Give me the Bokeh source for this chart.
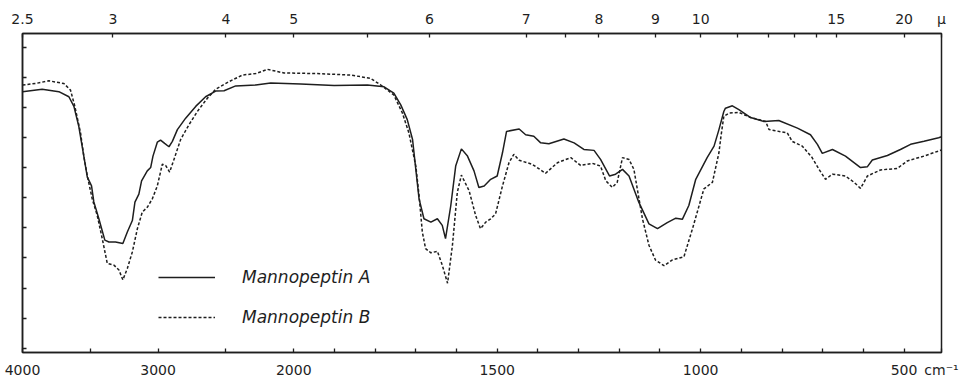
import json
import numpy as np
from bokeh.plotting import figure
from bokeh.models import (FixedTicker, CustomJSTickFormatter, LinearAxis, Range1d,
                          Legend, LegendItem)
from bokeh.embed import file_html
from bokeh.resources import INLINE

# ---------------- data (wavenumber cm-1, % transmittance) ----------------
nu_a = [4000, 3855, 3732, 3658, 3621, 3585, 3548, 3522, 3491, 3474, 3437, 3393, 3363, 3314,
        3260, 3227, 3190, 3171, 3142, 3122, 3080, 3055, 3038, 3006, 2982, 2952, 2920, 2895,
        2858, 2797, 2723, 2650, 2576, 2514, 2428, 2280, 2170, 1983, 1901, 1819, 1778, 1754,
        1737, 1721, 1708, 1700, 1692, 1680, 1663, 1647, 1635, 1627, 1614, 1602, 1588, 1573,
        1557, 1545, 1532, 1516, 1500, 1487, 1477, 1446, 1430, 1410, 1393, 1373, 1336, 1311,
        1287, 1262, 1246, 1224, 1209, 1192, 1176, 1152, 1127, 1106, 1082, 1061, 1045, 1029,
        1012, 984, 967, 955, 943, 939, 922, 906, 877, 844, 808, 762, 730, 713, 701, 676,
        644, 607, 590, 578, 541, 509, 484, 451, 415, 408]
t_a = [85.2, 86.0, 85.2, 83.5, 80.3, 73.7, 63.8, 56.8, 53.9, 48.6, 43.0, 35.9, 35.3, 35.3,
       34.8, 38.6, 42.4, 48.5, 51.2, 55.6, 58.9, 60.0, 63.8, 68.4, 69.1, 68.0, 66.9, 68.7,
       72.6, 76.4, 80.3, 83.5, 85.4, 85.5, 87.1, 87.4, 88.1, 87.7, 87.2, 87.4, 86.8, 84.7,
       80.8, 75.9, 69.3, 59.4, 49.6, 43.0, 41.9, 43.0, 40.8, 36.4, 47.4, 60.5, 66.2, 63.8,
       58.9, 53.4, 53.9, 56.1, 57.2, 64.9, 72.0, 72.8, 70.9, 70.4, 68.2, 67.9, 69.5, 68.2,
       66.0, 65.7, 62.7, 57.2, 57.8, 59.4, 57.2, 48.5, 41.3, 39.7, 41.7, 43.2, 42.8, 47.4,
       56.1, 63.3, 67.1, 72.6, 78.6, 79.7, 80.5, 79.2, 76.6, 75.3, 75.6, 73.1, 70.9, 67.7, 64.7, 66.0,
       63.8, 60.0, 60.3, 62.5, 64.0, 66.0, 67.7, 68.7, 69.9, 70.2]

nu_b = [4000, 3904, 3806, 3695, 3646, 3614, 3572, 3548, 3522, 3486, 3449, 3412, 3375, 3326,
        3289, 3260, 3227, 3190, 3153, 3117, 3080, 3043, 3006, 2969, 2945, 2915, 2883, 2834,
        2773, 2711, 2637, 2576, 2478, 2379, 2280, 2194, 2072, 1942, 1860, 1811, 1786, 1754,
        1733, 1717, 1700, 1692, 1684, 1676, 1663, 1647, 1635, 1622, 1610, 1598, 1588, 1569,
        1553, 1541, 1528, 1516, 1504, 1487, 1471, 1459, 1446, 1414, 1381, 1352, 1319, 1295,
        1266, 1246, 1233, 1217, 1205, 1192, 1176, 1164, 1143, 1127, 1111, 1090, 1070, 1041,
        1020, 992, 971, 955, 950, 943, 930, 906, 877, 840, 832, 787, 775, 750, 726, 709, 693,
        676, 644, 623, 607, 590, 558, 517, 492, 451, 415, 408]
t_b = [87.4, 87.9, 88.8, 87.9, 85.7, 80.3, 71.5, 63.8, 57.2, 49.6, 44.1, 36.4, 28.2, 27.6,
       26.0, 22.7, 26.5, 32.0, 39.7, 45.2, 46.8, 49.6, 53.9, 61.1, 60.7, 58.5, 62.7, 69.3,
       74.2, 78.6, 83.0, 86.0, 88.5, 90.7, 91.2, 92.6, 91.4, 91.2, 90.7, 89.6, 87.4, 84.1,
       78.1, 71.5, 60.5, 50.7, 38.6, 33.1, 31.7, 32.2, 27.6, 21.6, 34.2, 51.8, 57.5, 52.3,
       44.1, 39.7, 41.9, 43.0, 44.6, 53.9, 61.6, 64.4, 62.4, 61.1, 58.1, 61.6, 63.3, 60.7,
       61.4, 60.5, 55.6, 53.4, 55.1, 63.3, 62.7, 59.4, 43.0, 34.2, 29.3, 27.4, 29.3, 30.4,
       39.7, 52.9, 55.1, 64.9, 70.4, 77.0, 78.1, 78.3, 76.6, 75.3, 72.6, 71.5, 68.7, 67.1, 63.3, 59.4, 56.1,
       57.8, 57.2, 55.1, 53.1, 57.2, 59.2, 59.7, 62.2, 63.8, 65.5, 65.8]

series_names = ["Mannopeptin A", "Mannopeptin B"]

# bottom axis: wavenumber ticks and labels (unit label sits at the right end)
bottom_ticks_nu = [4000, 3500, 3000, 2500, 2000, 1900, 1800, 1700, 1600, 1500, 1400, 1300,
                   1200, 1100, 1000, 900, 800, 700, 600, 500]
bottom_labels = {4000: "4000", 3000: "3000", 2000: "2000", 1500: "1500", 1000: "1000", 500: "500"}
bottom_unit = "cm\u207b\u00b9"
# top axis: wavelength (micron) ticks and labels (unit label sits at the right end)
top_ticks_um = [2.5, 3, 4, 5, 5.5, 6, 7, 7.5, 8, 9, 10, 11, 12, 13, 14, 15, 20]
top_labels = ["2.5", "3", "4", "5", "", "6", "7", "", "8", "9", "10", "", "", "", "", "15", "20"]
top_unit = "\u03bc"
y_ticks = [0, 10, 20, 30, 40, 50, 60, 70, 80, 90, 100]

NU_HI, NU_LO = 4000, 408
Y_LO, Y_HI = -1.4, 104.5


def to_u(nu):
    """Grating-change abscissa: 1x scale above 2000 cm-1, 3x scale below."""
    nu = np.asarray(nu, dtype=float)
    return np.where(nu >= 2000, 4000 - nu, 8000 - 3 * nu)


U_END = float(to_u(NU_LO))
INK = "#1e1e1e"
FONT = "DejaVu Sans"

p = figure(width=968, height=380, output_backend="svg", toolbar_location=None,
           x_range=Range1d(float(to_u(NU_HI)), U_END),
           y_range=Range1d(Y_LO, Y_HI),
           min_border_left=22, min_border_right=27, min_border_top=33, min_border_bottom=25)
p.background_fill_color = "white"
p.border_fill_color = "white"
p.outline_line_color = INK
p.outline_line_width = 1.5
p.grid.visible = False

inv_js = "const nu = tick <= 2000 ? 4000 - tick : (8000 - tick) / 3;"

xb = p.xaxis[0]
xb.ticker = FixedTicker(ticks=[float(v) for v in to_u(bottom_ticks_nu)] + [U_END])
xb.formatter = CustomJSTickFormatter(code=inv_js + """
if (tick >= %f - 0.5) return %s;
const labs = %s;
const n = Math.round(nu);
return (String(n) in labs) ? labs[String(n)] : "";
""" % (U_END, json.dumps(bottom_unit), json.dumps({str(k): v for k, v in bottom_labels.items()})))

xt = LinearAxis()
xt.ticker = FixedTicker(ticks=[float(v) for v in to_u([10000.0 / w for w in top_ticks_um])] + [U_END])
xt.formatter = CustomJSTickFormatter(code=inv_js + """
if (tick >= %f - 0.5) return %s;
const um = 10000 / nu;
const tk = %s;
const labs = %s;
for (let i = 0; i < tk.length; i++) {
  if (Math.abs(tk[i] - um) < 0.02) return labs[i];
}
return "";
""" % (U_END, json.dumps(top_unit), json.dumps(top_ticks_um), json.dumps(top_labels)))
p.add_layout(xt, "above")

yl = p.yaxis[0]
yl.ticker = FixedTicker(ticks=y_ticks)
yl.formatter = CustomJSTickFormatter(code="return '';")
yl.major_label_text_font_size = "1px"
yl.major_label_standoff = 0

for ax in [xb, xt, yl]:
    ax.axis_line_color = INK
    ax.axis_line_width = 1.5
    ax.major_tick_line_color = INK
    ax.major_tick_line_width = 1.3
    ax.major_tick_in = 4
    ax.major_tick_out = 0
    ax.minor_tick_in = 0
    ax.minor_tick_out = 0
    ax.minor_tick_line_color = None
for ax in [xb, xt]:
    ax.major_label_text_font = FONT
    ax.major_label_text_font_size = "14px"
    ax.major_label_text_color = INK
xb.major_label_standoff = 9
xt.major_label_standoff = 7

r_a = p.line(to_u(nu_a), t_a, line_color=INK, line_width=1.5)
r_b = p.line(to_u(nu_b), t_b, line_color=INK, line_width=1.5, line_dash="3 2")

legend = Legend(items=[LegendItem(label=series_names[0], renderers=[r_a]),
                       LegendItem(label=series_names[1], renderers=[r_b])],
                location=(136, 25), orientation="vertical",
                glyph_width=57, glyph_height=20, label_height=20, spacing=20,
                label_standoff=27, padding=0, margin=0,
                border_line_color=None, background_fill_alpha=0,
                label_text_font=FONT, label_text_font_style="italic",
                label_text_font_size="17px", label_text_color=INK)
p.add_layout(legend)

open("out.html", "w").write(file_html(p, INLINE))
